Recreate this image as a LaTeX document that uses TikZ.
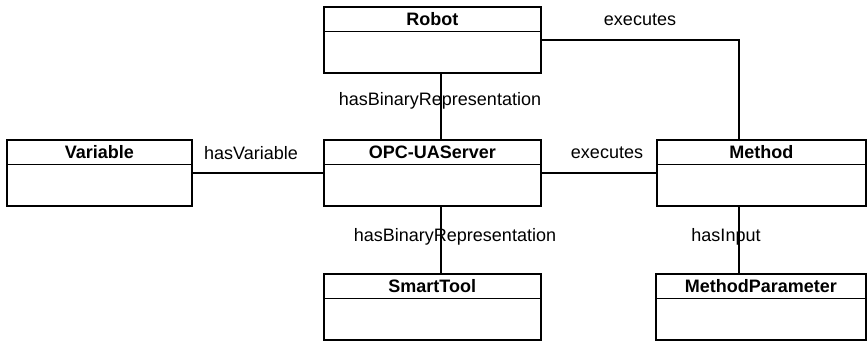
\documentclass[tikz,border=0pt]{standalone}
\usepackage{fontspec}
\setmainfont{Liberation Sans}
\begin{document}
\begin{tikzpicture}[x=1pt,y=-1pt,
  classbox/.style={draw, line width=1.6pt, anchor=north west, minimum height=66pt, inner sep=0pt},
  classtitle/.style={font=\fontsize{18}{20}\selectfont\bfseries, anchor=center, inner sep=0pt},
  link/.style={line width=1.5pt},
  role/.style={font=\fontsize{18}{20}\selectfont, inner sep=0pt, anchor=center}]
\useasboundingbox (0,0) rectangle (867,340);

% class boxes: an outer frame, a title and a separator line below the title
\newcommand\umlclass[5]{%
  \node[classbox, minimum width=#4] (#1) at (#2,#3) {};
  \draw[line width=1.6pt] ([yshift=-25.5pt]#1.north west) -- ([yshift=-25.5pt]#1.north east);
  \node[classtitle] (#1-title) at ([yshift=-13pt]#1.north) {#5};
}

\umlclass{robot}{323}{6}{217pt}{Robot}
\umlclass{variable}{6}{139}{185pt}{Variable}
\umlclass{server}{323}{139}{217pt}{OPC-UAServer}
\umlclass{method}{656}{139}{209pt}{Method}
\umlclass{tool}{323}{273}{217pt}{SmartTool}
\umlclass{param}{655}{273}{210pt}{MethodParameter}

% associations
\draw[link] ([xshift=8.5pt]robot.south) -- ([xshift=8.5pt]server.north);
\draw[link] ([xshift=8.5pt]server.south) -- ([xshift=8.5pt]tool.north);
\draw[link] (variable.east) -- (server.west);
\draw[link] (server.east) -- (method.west);
\draw[link] (robot.east) -| ([xshift=-22.5pt]method.north);
\draw[link] ([xshift=-22.5pt]method.south) -- ([xshift=-22pt]param.north);

% association names
\node[role] (l1) at (640,20) {executes};
\node[role] (l2) at (440,101) {hasBinaryRepresentation};
\node[role] (l3) at (251,153) {hasVariable};
\node[role] (l4) at (607,153) {executes};
\node[role] (l5) at (455,237) {hasBinaryRepresentation};
\node[role] (l6) at (726,237) {hasInput};
\end{tikzpicture}
\end{document}
